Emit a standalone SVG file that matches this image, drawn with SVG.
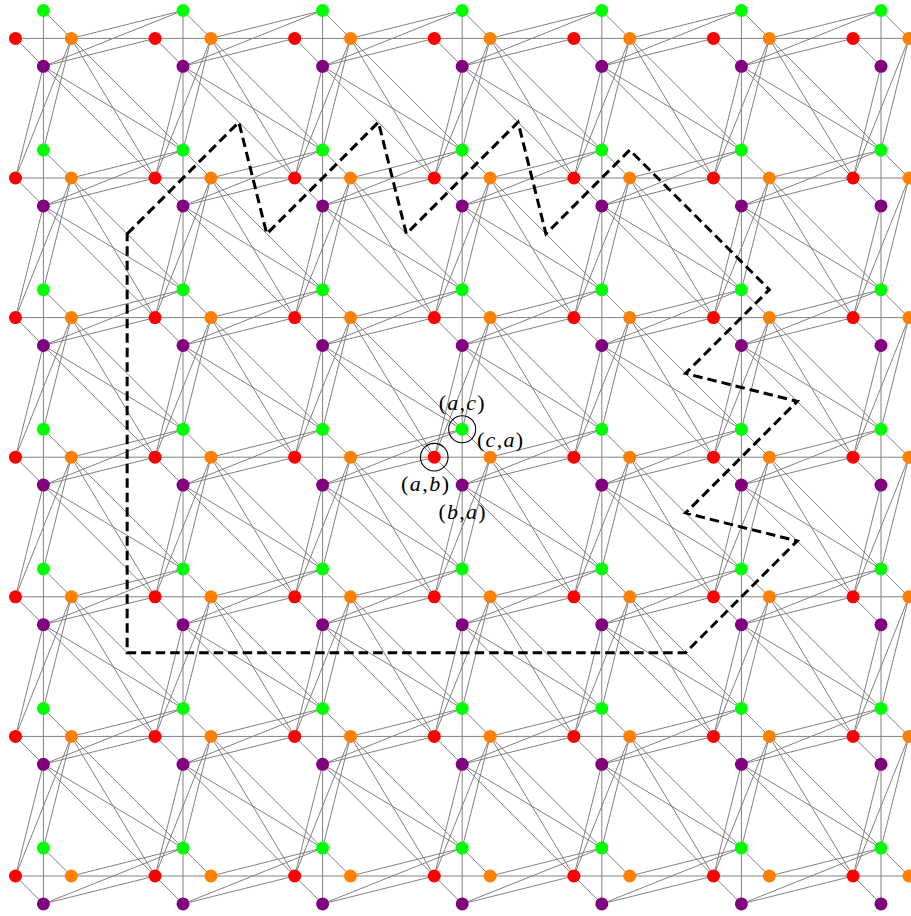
<svg xmlns="http://www.w3.org/2000/svg" xmlns:xlink="http://www.w3.org/1999/xlink" width="911" height="916" viewBox="0 0 911 916">
<style>
.edges{stroke:#808080;stroke-width:1;fill:none}
.r{fill:#ff0000}.o{fill:#ff8000}.g{fill:#00ff00}.p{fill:#800080}
.ring{fill:none;stroke:#000;stroke-width:1.1}
.lbl{font-family:"Liberation Serif","Times New Roman",serif;font-size:22px;fill:#000}
.it{font-style:italic}
.region{fill:none;stroke:#000;stroke-width:3;stroke-dasharray:9.5 5}
</style>
<defs>
<g id="ei"><line x1="-27.92" y1="0" x2="0" y2="27.92"/><line x1="0" y1="-27.92" x2="27.92" y2="0"/></g>
<g id="er"><line x1="27.92" y1="0" x2="139.6" y2="-27.92"/><line x1="0" y1="27.92" x2="139.6" y2="-27.92"/><line x1="0" y1="27.92" x2="111.68" y2="0"/></g>
<g id="ed"><line x1="27.92" y1="0" x2="-27.92" y2="139.6"/><line x1="0" y1="27.92" x2="-27.92" y2="139.6"/><line x1="27.92" y1="0" x2="0" y2="111.68"/></g>
<g id="ex"><line x1="27.92" y1="0" x2="111.68" y2="139.6"/><line x1="27.92" y1="0" x2="139.6" y2="111.68"/><line x1="0" y1="27.92" x2="139.6" y2="111.68"/><line x1="0" y1="27.92" x2="111.68" y2="139.6"/></g>
</defs>
<g id="connectors" class="edges">
<line x1="15.48" y1="38.4" x2="908.92" y2="38.4"/>
<line x1="15.48" y1="178" x2="908.92" y2="178"/>
<line x1="15.48" y1="317.6" x2="908.92" y2="317.6"/>
<line x1="15.48" y1="457.2" x2="908.92" y2="457.2"/>
<line x1="15.48" y1="596.8" x2="908.92" y2="596.8"/>
<line x1="15.48" y1="736.4" x2="908.92" y2="736.4"/>
<line x1="15.48" y1="876" x2="908.92" y2="876"/>
<line x1="43.4" y1="10.48" x2="43.4" y2="903.92"/>
<line x1="183" y1="10.48" x2="183" y2="903.92"/>
<line x1="322.6" y1="10.48" x2="322.6" y2="903.92"/>
<line x1="462.2" y1="10.48" x2="462.2" y2="903.92"/>
<line x1="601.8" y1="10.48" x2="601.8" y2="903.92"/>
<line x1="741.4" y1="10.48" x2="741.4" y2="903.92"/>
<line x1="881" y1="10.48" x2="881" y2="903.92"/>
<!-- row 0 -->
<use href="#ei" x="43.4" y="38.4"/><use href="#er" x="43.4" y="38.4"/><use href="#ed" x="43.4" y="38.4"/><use href="#ex" x="43.4" y="38.4"/>
<use href="#ei" x="183" y="38.4"/><use href="#er" x="183" y="38.4"/><use href="#ed" x="183" y="38.4"/><use href="#ex" x="183" y="38.4"/>
<use href="#ei" x="322.6" y="38.4"/><use href="#er" x="322.6" y="38.4"/><use href="#ed" x="322.6" y="38.4"/><use href="#ex" x="322.6" y="38.4"/>
<use href="#ei" x="462.2" y="38.4"/><use href="#er" x="462.2" y="38.4"/><use href="#ed" x="462.2" y="38.4"/><use href="#ex" x="462.2" y="38.4"/>
<use href="#ei" x="601.8" y="38.4"/><use href="#er" x="601.8" y="38.4"/><use href="#ed" x="601.8" y="38.4"/><use href="#ex" x="601.8" y="38.4"/>
<use href="#ei" x="741.4" y="38.4"/><use href="#er" x="741.4" y="38.4"/><use href="#ed" x="741.4" y="38.4"/><use href="#ex" x="741.4" y="38.4"/>
<use href="#ei" x="881" y="38.4"/><use href="#ed" x="881" y="38.4"/>
<!-- row 1 -->
<use href="#ei" x="43.4" y="178"/><use href="#er" x="43.4" y="178"/><use href="#ed" x="43.4" y="178"/><use href="#ex" x="43.4" y="178"/>
<use href="#ei" x="183" y="178"/><use href="#er" x="183" y="178"/><use href="#ed" x="183" y="178"/><use href="#ex" x="183" y="178"/>
<use href="#ei" x="322.6" y="178"/><use href="#er" x="322.6" y="178"/><use href="#ed" x="322.6" y="178"/><use href="#ex" x="322.6" y="178"/>
<use href="#ei" x="462.2" y="178"/><use href="#er" x="462.2" y="178"/><use href="#ed" x="462.2" y="178"/><use href="#ex" x="462.2" y="178"/>
<use href="#ei" x="601.8" y="178"/><use href="#er" x="601.8" y="178"/><use href="#ed" x="601.8" y="178"/><use href="#ex" x="601.8" y="178"/>
<use href="#ei" x="741.4" y="178"/><use href="#er" x="741.4" y="178"/><use href="#ed" x="741.4" y="178"/><use href="#ex" x="741.4" y="178"/>
<use href="#ei" x="881" y="178"/><use href="#ed" x="881" y="178"/>
<!-- row 2 -->
<use href="#ei" x="43.4" y="317.6"/><use href="#er" x="43.4" y="317.6"/><use href="#ed" x="43.4" y="317.6"/><use href="#ex" x="43.4" y="317.6"/>
<use href="#ei" x="183" y="317.6"/><use href="#er" x="183" y="317.6"/><use href="#ed" x="183" y="317.6"/><use href="#ex" x="183" y="317.6"/>
<use href="#ei" x="322.6" y="317.6"/><use href="#er" x="322.6" y="317.6"/><use href="#ed" x="322.6" y="317.6"/><use href="#ex" x="322.6" y="317.6"/>
<use href="#ei" x="462.2" y="317.6"/><use href="#er" x="462.2" y="317.6"/><use href="#ed" x="462.2" y="317.6"/><use href="#ex" x="462.2" y="317.6"/>
<use href="#ei" x="601.8" y="317.6"/><use href="#er" x="601.8" y="317.6"/><use href="#ed" x="601.8" y="317.6"/><use href="#ex" x="601.8" y="317.6"/>
<use href="#ei" x="741.4" y="317.6"/><use href="#er" x="741.4" y="317.6"/><use href="#ed" x="741.4" y="317.6"/><use href="#ex" x="741.4" y="317.6"/>
<use href="#ei" x="881" y="317.6"/><use href="#ed" x="881" y="317.6"/>
<!-- row 3 -->
<use href="#ei" x="43.4" y="457.2"/><use href="#er" x="43.4" y="457.2"/><use href="#ed" x="43.4" y="457.2"/><use href="#ex" x="43.4" y="457.2"/>
<use href="#ei" x="183" y="457.2"/><use href="#er" x="183" y="457.2"/><use href="#ed" x="183" y="457.2"/><use href="#ex" x="183" y="457.2"/>
<use href="#ei" x="322.6" y="457.2"/><use href="#er" x="322.6" y="457.2"/><use href="#ed" x="322.6" y="457.2"/><use href="#ex" x="322.6" y="457.2"/>
<use href="#ei" x="462.2" y="457.2"/><use href="#er" x="462.2" y="457.2"/><use href="#ed" x="462.2" y="457.2"/><use href="#ex" x="462.2" y="457.2"/>
<use href="#ei" x="601.8" y="457.2"/><use href="#er" x="601.8" y="457.2"/><use href="#ed" x="601.8" y="457.2"/><use href="#ex" x="601.8" y="457.2"/>
<use href="#ei" x="741.4" y="457.2"/><use href="#er" x="741.4" y="457.2"/><use href="#ed" x="741.4" y="457.2"/><use href="#ex" x="741.4" y="457.2"/>
<use href="#ei" x="881" y="457.2"/><use href="#ed" x="881" y="457.2"/>
<!-- row 4 -->
<use href="#ei" x="43.4" y="596.8"/><use href="#er" x="43.4" y="596.8"/><use href="#ed" x="43.4" y="596.8"/><use href="#ex" x="43.4" y="596.8"/>
<use href="#ei" x="183" y="596.8"/><use href="#er" x="183" y="596.8"/><use href="#ed" x="183" y="596.8"/><use href="#ex" x="183" y="596.8"/>
<use href="#ei" x="322.6" y="596.8"/><use href="#er" x="322.6" y="596.8"/><use href="#ed" x="322.6" y="596.8"/><use href="#ex" x="322.6" y="596.8"/>
<use href="#ei" x="462.2" y="596.8"/><use href="#er" x="462.2" y="596.8"/><use href="#ed" x="462.2" y="596.8"/><use href="#ex" x="462.2" y="596.8"/>
<use href="#ei" x="601.8" y="596.8"/><use href="#er" x="601.8" y="596.8"/><use href="#ed" x="601.8" y="596.8"/><use href="#ex" x="601.8" y="596.8"/>
<use href="#ei" x="741.4" y="596.8"/><use href="#er" x="741.4" y="596.8"/><use href="#ed" x="741.4" y="596.8"/><use href="#ex" x="741.4" y="596.8"/>
<use href="#ei" x="881" y="596.8"/><use href="#ed" x="881" y="596.8"/>
<!-- row 5 -->
<use href="#ei" x="43.4" y="736.4"/><use href="#er" x="43.4" y="736.4"/><use href="#ed" x="43.4" y="736.4"/><use href="#ex" x="43.4" y="736.4"/>
<use href="#ei" x="183" y="736.4"/><use href="#er" x="183" y="736.4"/><use href="#ed" x="183" y="736.4"/><use href="#ex" x="183" y="736.4"/>
<use href="#ei" x="322.6" y="736.4"/><use href="#er" x="322.6" y="736.4"/><use href="#ed" x="322.6" y="736.4"/><use href="#ex" x="322.6" y="736.4"/>
<use href="#ei" x="462.2" y="736.4"/><use href="#er" x="462.2" y="736.4"/><use href="#ed" x="462.2" y="736.4"/><use href="#ex" x="462.2" y="736.4"/>
<use href="#ei" x="601.8" y="736.4"/><use href="#er" x="601.8" y="736.4"/><use href="#ed" x="601.8" y="736.4"/><use href="#ex" x="601.8" y="736.4"/>
<use href="#ei" x="741.4" y="736.4"/><use href="#er" x="741.4" y="736.4"/><use href="#ed" x="741.4" y="736.4"/><use href="#ex" x="741.4" y="736.4"/>
<use href="#ei" x="881" y="736.4"/><use href="#ed" x="881" y="736.4"/>
<!-- row 6 -->
<use href="#ei" x="43.4" y="876"/><use href="#er" x="43.4" y="876"/>
<use href="#ei" x="183" y="876"/><use href="#er" x="183" y="876"/>
<use href="#ei" x="322.6" y="876"/><use href="#er" x="322.6" y="876"/>
<use href="#ei" x="462.2" y="876"/><use href="#er" x="462.2" y="876"/>
<use href="#ei" x="601.8" y="876"/><use href="#er" x="601.8" y="876"/>
<use href="#ei" x="741.4" y="876"/><use href="#er" x="741.4" y="876"/>
<use href="#ei" x="881" y="876"/>
</g>
<g id="nodes">
<g id="R00"><circle class="r" cx="15.48" cy="38.4" r="6.5"/></g><g id="O00"><circle class="o" cx="71.32" cy="38.4" r="6.5"/></g><g id="G00"><circle class="g" cx="43.4" cy="10.48" r="6.5"/></g><g id="P00"><circle class="p" cx="43.4" cy="66.32" r="6.5"/></g>
<g id="R10"><circle class="r" cx="155.08" cy="38.4" r="6.5"/></g><g id="O10"><circle class="o" cx="210.92" cy="38.4" r="6.5"/></g><g id="G10"><circle class="g" cx="183" cy="10.48" r="6.5"/></g><g id="P10"><circle class="p" cx="183" cy="66.32" r="6.5"/></g>
<g id="R20"><circle class="r" cx="294.68" cy="38.4" r="6.5"/></g><g id="O20"><circle class="o" cx="350.52" cy="38.4" r="6.5"/></g><g id="G20"><circle class="g" cx="322.6" cy="10.48" r="6.5"/></g><g id="P20"><circle class="p" cx="322.6" cy="66.32" r="6.5"/></g>
<g id="R30"><circle class="r" cx="434.28" cy="38.4" r="6.5"/></g><g id="O30"><circle class="o" cx="490.12" cy="38.4" r="6.5"/></g><g id="G30"><circle class="g" cx="462.2" cy="10.48" r="6.5"/></g><g id="P30"><circle class="p" cx="462.2" cy="66.32" r="6.5"/></g>
<g id="R40"><circle class="r" cx="573.88" cy="38.4" r="6.5"/></g><g id="O40"><circle class="o" cx="629.72" cy="38.4" r="6.5"/></g><g id="G40"><circle class="g" cx="601.8" cy="10.48" r="6.5"/></g><g id="P40"><circle class="p" cx="601.8" cy="66.32" r="6.5"/></g>
<g id="R50"><circle class="r" cx="713.48" cy="38.4" r="6.5"/></g><g id="O50"><circle class="o" cx="769.32" cy="38.4" r="6.5"/></g><g id="G50"><circle class="g" cx="741.4" cy="10.48" r="6.5"/></g><g id="P50"><circle class="p" cx="741.4" cy="66.32" r="6.5"/></g>
<g id="R60"><circle class="r" cx="853.08" cy="38.4" r="6.5"/></g><g id="O60"><circle class="o" cx="908.92" cy="38.4" r="6.5"/></g><g id="G60"><circle class="g" cx="881" cy="10.48" r="6.5"/></g><g id="P60"><circle class="p" cx="881" cy="66.32" r="6.5"/></g>

<g id="R01"><circle class="r" cx="15.48" cy="178" r="6.5"/></g><g id="O01"><circle class="o" cx="71.32" cy="178" r="6.5"/></g><g id="G01"><circle class="g" cx="43.4" cy="150.08" r="6.5"/></g><g id="P01"><circle class="p" cx="43.4" cy="205.92" r="6.5"/></g>
<g id="R11"><circle class="r" cx="155.08" cy="178" r="6.5"/></g><g id="O11"><circle class="o" cx="210.92" cy="178" r="6.5"/></g><g id="G11"><circle class="g" cx="183" cy="150.08" r="6.5"/></g><g id="P11"><circle class="p" cx="183" cy="205.92" r="6.5"/></g>
<g id="R21"><circle class="r" cx="294.68" cy="178" r="6.5"/></g><g id="O21"><circle class="o" cx="350.52" cy="178" r="6.5"/></g><g id="G21"><circle class="g" cx="322.6" cy="150.08" r="6.5"/></g><g id="P21"><circle class="p" cx="322.6" cy="205.92" r="6.5"/></g>
<g id="R31"><circle class="r" cx="434.28" cy="178" r="6.5"/></g><g id="O31"><circle class="o" cx="490.12" cy="178" r="6.5"/></g><g id="G31"><circle class="g" cx="462.2" cy="150.08" r="6.5"/></g><g id="P31"><circle class="p" cx="462.2" cy="205.92" r="6.5"/></g>
<g id="R41"><circle class="r" cx="573.88" cy="178" r="6.5"/></g><g id="O41"><circle class="o" cx="629.72" cy="178" r="6.5"/></g><g id="G41"><circle class="g" cx="601.8" cy="150.08" r="6.5"/></g><g id="P41"><circle class="p" cx="601.8" cy="205.92" r="6.5"/></g>
<g id="R51"><circle class="r" cx="713.48" cy="178" r="6.5"/></g><g id="O51"><circle class="o" cx="769.32" cy="178" r="6.5"/></g><g id="G51"><circle class="g" cx="741.4" cy="150.08" r="6.5"/></g><g id="P51"><circle class="p" cx="741.4" cy="205.92" r="6.5"/></g>
<g id="R61"><circle class="r" cx="853.08" cy="178" r="6.5"/></g><g id="O61"><circle class="o" cx="908.92" cy="178" r="6.5"/></g><g id="G61"><circle class="g" cx="881" cy="150.08" r="6.5"/></g><g id="P61"><circle class="p" cx="881" cy="205.92" r="6.5"/></g>

<g id="R02"><circle class="r" cx="15.48" cy="317.6" r="6.5"/></g><g id="O02"><circle class="o" cx="71.32" cy="317.6" r="6.5"/></g><g id="G02"><circle class="g" cx="43.4" cy="289.68" r="6.5"/></g><g id="P02"><circle class="p" cx="43.4" cy="345.52" r="6.5"/></g>
<g id="R12"><circle class="r" cx="155.08" cy="317.6" r="6.5"/></g><g id="O12"><circle class="o" cx="210.92" cy="317.6" r="6.5"/></g><g id="G12"><circle class="g" cx="183" cy="289.68" r="6.5"/></g><g id="P12"><circle class="p" cx="183" cy="345.52" r="6.5"/></g>
<g id="R22"><circle class="r" cx="294.68" cy="317.6" r="6.5"/></g><g id="O22"><circle class="o" cx="350.52" cy="317.6" r="6.5"/></g><g id="G22"><circle class="g" cx="322.6" cy="289.68" r="6.5"/></g><g id="P22"><circle class="p" cx="322.6" cy="345.52" r="6.5"/></g>
<g id="R32"><circle class="r" cx="434.28" cy="317.6" r="6.5"/></g><g id="O32"><circle class="o" cx="490.12" cy="317.6" r="6.5"/></g><g id="G32"><circle class="g" cx="462.2" cy="289.68" r="6.5"/></g><g id="P32"><circle class="p" cx="462.2" cy="345.52" r="6.5"/></g>
<g id="R42"><circle class="r" cx="573.88" cy="317.6" r="6.5"/></g><g id="O42"><circle class="o" cx="629.72" cy="317.6" r="6.5"/></g><g id="G42"><circle class="g" cx="601.8" cy="289.68" r="6.5"/></g><g id="P42"><circle class="p" cx="601.8" cy="345.52" r="6.5"/></g>
<g id="R52"><circle class="r" cx="713.48" cy="317.6" r="6.5"/></g><g id="O52"><circle class="o" cx="769.32" cy="317.6" r="6.5"/></g><g id="G52"><circle class="g" cx="741.4" cy="289.68" r="6.5"/></g><g id="P52"><circle class="p" cx="741.4" cy="345.52" r="6.5"/></g>
<g id="R62"><circle class="r" cx="853.08" cy="317.6" r="6.5"/></g><g id="O62"><circle class="o" cx="908.92" cy="317.6" r="6.5"/></g><g id="G62"><circle class="g" cx="881" cy="289.68" r="6.5"/></g><g id="P62"><circle class="p" cx="881" cy="345.52" r="6.5"/></g>

<g id="R03"><circle class="r" cx="15.48" cy="457.2" r="6.5"/></g><g id="O03"><circle class="o" cx="71.32" cy="457.2" r="6.5"/></g><g id="G03"><circle class="g" cx="43.4" cy="429.28" r="6.5"/></g><g id="P03"><circle class="p" cx="43.4" cy="485.12" r="6.5"/></g>
<g id="R13"><circle class="r" cx="155.08" cy="457.2" r="6.5"/></g><g id="O13"><circle class="o" cx="210.92" cy="457.2" r="6.5"/></g><g id="G13"><circle class="g" cx="183" cy="429.28" r="6.5"/></g><g id="P13"><circle class="p" cx="183" cy="485.12" r="6.5"/></g>
<g id="R23"><circle class="r" cx="294.68" cy="457.2" r="6.5"/></g><g id="O23"><circle class="o" cx="350.52" cy="457.2" r="6.5"/></g><g id="G23"><circle class="g" cx="322.6" cy="429.28" r="6.5"/></g><g id="P23"><circle class="p" cx="322.6" cy="485.12" r="6.5"/></g>
<g id="R33"><circle class="r" cx="434.28" cy="457.2" r="6.5"/></g><g id="O33"><circle class="o" cx="490.12" cy="457.2" r="6.5"/></g><g id="G33"><circle class="g" cx="462.2" cy="429.28" r="6.5"/></g><g id="P33"><circle class="p" cx="462.2" cy="485.12" r="6.5"/></g>
<g id="R43"><circle class="r" cx="573.88" cy="457.2" r="6.5"/></g><g id="O43"><circle class="o" cx="629.72" cy="457.2" r="6.5"/></g><g id="G43"><circle class="g" cx="601.8" cy="429.28" r="6.5"/></g><g id="P43"><circle class="p" cx="601.8" cy="485.12" r="6.5"/></g>
<g id="R53"><circle class="r" cx="713.48" cy="457.2" r="6.5"/></g><g id="O53"><circle class="o" cx="769.32" cy="457.2" r="6.5"/></g><g id="G53"><circle class="g" cx="741.4" cy="429.28" r="6.5"/></g><g id="P53"><circle class="p" cx="741.4" cy="485.12" r="6.5"/></g>
<g id="R63"><circle class="r" cx="853.08" cy="457.2" r="6.5"/></g><g id="O63"><circle class="o" cx="908.92" cy="457.2" r="6.5"/></g><g id="G63"><circle class="g" cx="881" cy="429.28" r="6.5"/></g><g id="P63"><circle class="p" cx="881" cy="485.12" r="6.5"/></g>

<g id="R04"><circle class="r" cx="15.48" cy="596.8" r="6.5"/></g><g id="O04"><circle class="o" cx="71.32" cy="596.8" r="6.5"/></g><g id="G04"><circle class="g" cx="43.4" cy="568.88" r="6.5"/></g><g id="P04"><circle class="p" cx="43.4" cy="624.72" r="6.5"/></g>
<g id="R14"><circle class="r" cx="155.08" cy="596.8" r="6.5"/></g><g id="O14"><circle class="o" cx="210.92" cy="596.8" r="6.5"/></g><g id="G14"><circle class="g" cx="183" cy="568.88" r="6.5"/></g><g id="P14"><circle class="p" cx="183" cy="624.72" r="6.5"/></g>
<g id="R24"><circle class="r" cx="294.68" cy="596.8" r="6.5"/></g><g id="O24"><circle class="o" cx="350.52" cy="596.8" r="6.5"/></g><g id="G24"><circle class="g" cx="322.6" cy="568.88" r="6.5"/></g><g id="P24"><circle class="p" cx="322.6" cy="624.72" r="6.5"/></g>
<g id="R34"><circle class="r" cx="434.28" cy="596.8" r="6.5"/></g><g id="O34"><circle class="o" cx="490.12" cy="596.8" r="6.5"/></g><g id="G34"><circle class="g" cx="462.2" cy="568.88" r="6.5"/></g><g id="P34"><circle class="p" cx="462.2" cy="624.72" r="6.5"/></g>
<g id="R44"><circle class="r" cx="573.88" cy="596.8" r="6.5"/></g><g id="O44"><circle class="o" cx="629.72" cy="596.8" r="6.5"/></g><g id="G44"><circle class="g" cx="601.8" cy="568.88" r="6.5"/></g><g id="P44"><circle class="p" cx="601.8" cy="624.72" r="6.5"/></g>
<g id="R54"><circle class="r" cx="713.48" cy="596.8" r="6.5"/></g><g id="O54"><circle class="o" cx="769.32" cy="596.8" r="6.5"/></g><g id="G54"><circle class="g" cx="741.4" cy="568.88" r="6.5"/></g><g id="P54"><circle class="p" cx="741.4" cy="624.72" r="6.5"/></g>
<g id="R64"><circle class="r" cx="853.08" cy="596.8" r="6.5"/></g><g id="O64"><circle class="o" cx="908.92" cy="596.8" r="6.5"/></g><g id="G64"><circle class="g" cx="881" cy="568.88" r="6.5"/></g><g id="P64"><circle class="p" cx="881" cy="624.72" r="6.5"/></g>

<g id="R05"><circle class="r" cx="15.48" cy="736.4" r="6.5"/></g><g id="O05"><circle class="o" cx="71.32" cy="736.4" r="6.5"/></g><g id="G05"><circle class="g" cx="43.4" cy="708.48" r="6.5"/></g><g id="P05"><circle class="p" cx="43.4" cy="764.32" r="6.5"/></g>
<g id="R15"><circle class="r" cx="155.08" cy="736.4" r="6.5"/></g><g id="O15"><circle class="o" cx="210.92" cy="736.4" r="6.5"/></g><g id="G15"><circle class="g" cx="183" cy="708.48" r="6.5"/></g><g id="P15"><circle class="p" cx="183" cy="764.32" r="6.5"/></g>
<g id="R25"><circle class="r" cx="294.68" cy="736.4" r="6.5"/></g><g id="O25"><circle class="o" cx="350.52" cy="736.4" r="6.5"/></g><g id="G25"><circle class="g" cx="322.6" cy="708.48" r="6.5"/></g><g id="P25"><circle class="p" cx="322.6" cy="764.32" r="6.5"/></g>
<g id="R35"><circle class="r" cx="434.28" cy="736.4" r="6.5"/></g><g id="O35"><circle class="o" cx="490.12" cy="736.4" r="6.5"/></g><g id="G35"><circle class="g" cx="462.2" cy="708.48" r="6.5"/></g><g id="P35"><circle class="p" cx="462.2" cy="764.32" r="6.5"/></g>
<g id="R45"><circle class="r" cx="573.88" cy="736.4" r="6.5"/></g><g id="O45"><circle class="o" cx="629.72" cy="736.4" r="6.5"/></g><g id="G45"><circle class="g" cx="601.8" cy="708.48" r="6.5"/></g><g id="P45"><circle class="p" cx="601.8" cy="764.32" r="6.5"/></g>
<g id="R55"><circle class="r" cx="713.48" cy="736.4" r="6.5"/></g><g id="O55"><circle class="o" cx="769.32" cy="736.4" r="6.5"/></g><g id="G55"><circle class="g" cx="741.4" cy="708.48" r="6.5"/></g><g id="P55"><circle class="p" cx="741.4" cy="764.32" r="6.5"/></g>
<g id="R65"><circle class="r" cx="853.08" cy="736.4" r="6.5"/></g><g id="O65"><circle class="o" cx="908.92" cy="736.4" r="6.5"/></g><g id="G65"><circle class="g" cx="881" cy="708.48" r="6.5"/></g><g id="P65"><circle class="p" cx="881" cy="764.32" r="6.5"/></g>

<g id="R06"><circle class="r" cx="15.48" cy="876" r="6.5"/></g><g id="O06"><circle class="o" cx="71.32" cy="876" r="6.5"/></g><g id="G06"><circle class="g" cx="43.4" cy="848.08" r="6.5"/></g><g id="P06"><circle class="p" cx="43.4" cy="903.92" r="6.5"/></g>
<g id="R16"><circle class="r" cx="155.08" cy="876" r="6.5"/></g><g id="O16"><circle class="o" cx="210.92" cy="876" r="6.5"/></g><g id="G16"><circle class="g" cx="183" cy="848.08" r="6.5"/></g><g id="P16"><circle class="p" cx="183" cy="903.92" r="6.5"/></g>
<g id="R26"><circle class="r" cx="294.68" cy="876" r="6.5"/></g><g id="O26"><circle class="o" cx="350.52" cy="876" r="6.5"/></g><g id="G26"><circle class="g" cx="322.6" cy="848.08" r="6.5"/></g><g id="P26"><circle class="p" cx="322.6" cy="903.92" r="6.5"/></g>
<g id="R36"><circle class="r" cx="434.28" cy="876" r="6.5"/></g><g id="O36"><circle class="o" cx="490.12" cy="876" r="6.5"/></g><g id="G36"><circle class="g" cx="462.2" cy="848.08" r="6.5"/></g><g id="P36"><circle class="p" cx="462.2" cy="903.92" r="6.5"/></g>
<g id="R46"><circle class="r" cx="573.88" cy="876" r="6.5"/></g><g id="O46"><circle class="o" cx="629.72" cy="876" r="6.5"/></g><g id="G46"><circle class="g" cx="601.8" cy="848.08" r="6.5"/></g><g id="P46"><circle class="p" cx="601.8" cy="903.92" r="6.5"/></g>
<g id="R56"><circle class="r" cx="713.48" cy="876" r="6.5"/></g><g id="O56"><circle class="o" cx="769.32" cy="876" r="6.5"/></g><g id="G56"><circle class="g" cx="741.4" cy="848.08" r="6.5"/></g><g id="P56"><circle class="p" cx="741.4" cy="903.92" r="6.5"/></g>
<g id="R66"><circle class="r" cx="853.08" cy="876" r="6.5"/></g><g id="O66"><circle class="o" cx="908.92" cy="876" r="6.5"/></g><g id="G66"><circle class="g" cx="881" cy="848.08" r="6.5"/></g><g id="P66"><circle class="p" cx="881" cy="903.92" r="6.5"/></g>
</g>
<g id="highlight">
<circle class="ring" cx="462.2" cy="429.28" r="13.5"/>
<circle class="ring" cx="434.28" cy="457.2" r="13.8"/>
<text class="lbl" x="461.7" y="409.5" text-anchor="middle" textLength="46" lengthAdjust="spacing">(<tspan class="it">a</tspan>,<tspan class="it">c</tspan>)</text>
<text class="lbl" x="500" y="447" text-anchor="middle" textLength="46" lengthAdjust="spacing">(<tspan class="it">c</tspan>,<tspan class="it">a</tspan>)</text>
<text class="lbl" x="425" y="491" text-anchor="middle" textLength="48" lengthAdjust="spacing">(<tspan class="it">a</tspan>,<tspan class="it">b</tspan>)</text>
<text class="lbl" x="462" y="518.5" text-anchor="middle" textLength="47" lengthAdjust="spacing">(<tspan class="it">b</tspan>,<tspan class="it">a</tspan>)</text>
</g>
<g id="region">
<polygon class="region" points="127.16,233.84 238.84,122.16 266.76,233.84 378.44,122.16 406.36,233.84 518.04,122.16 545.96,233.84 629.72,150.08 769.32,289.68 685.56,373.44 797.24,401.36 685.56,513.04 797.24,540.96 685.56,652.64 127.16,652.64"/>
</g>
</svg>
